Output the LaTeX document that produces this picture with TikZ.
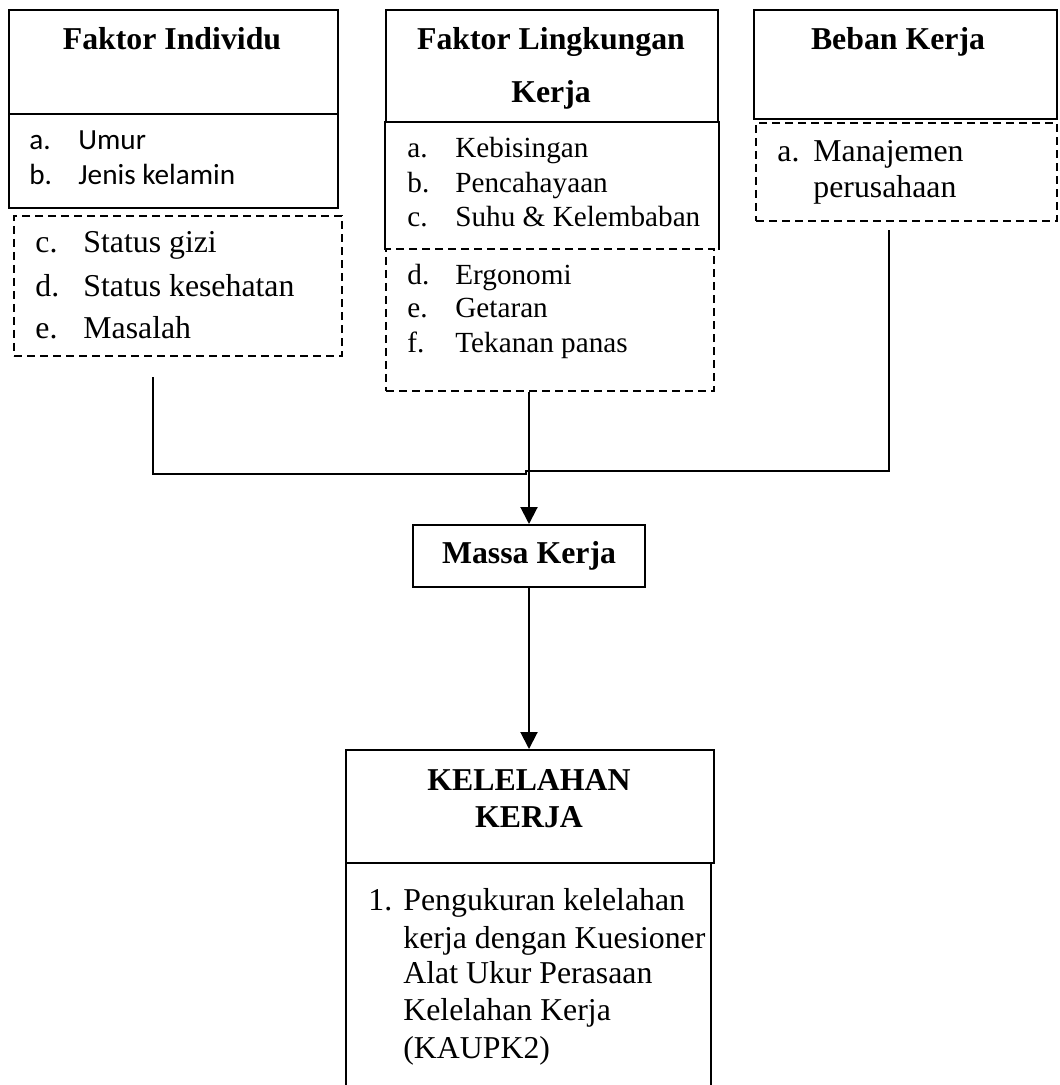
\documentclass[tikz,border=0pt]{standalone}
\usepackage{fontspec}
\setmainfont{Liberation Serif}
\newfontfamily\calibrifont{Carlito}
\usetikzlibrary{arrows.meta}
\tikzset{
  box/.style={draw, line width=1pt, inner sep=0pt, anchor=north west},
  dbox/.style={box, dash pattern=on 4pt off 2.5pt},
  head/.style={font=\fontsize{15.9}{19}\selectfont\bfseries, anchor=base, inner sep=0pt},
  item/.style={font=\fontsize{15.9}{19}\selectfont, anchor=base west, inner sep=0pt},
  smallitem/.style={font=\fontsize{14.6}{17}\selectfont, anchor=base west, inner sep=0pt},
  sansitem/.style={font=\calibrifont\fontsize{14.6}{17}\selectfont, anchor=base west, inner sep=0pt},
  link/.style={line width=1pt},
  arr/.style={link, -{Triangle[length=8.5pt,width=8.5pt]}}
}
\begin{document}
\begin{tikzpicture}[x=0.5pt, y=-0.5pt]
  \useasboundingbox (0,0) rectangle (1059,1085);

  % Faktor Individu
  \node[box, minimum width=164.5pt, minimum height=52pt] (ind) at (8,9) {};
  \node[box, minimum width=164.5pt, minimum height=47pt] (indA) at (8,113) {};
  \node[dbox, minimum width=164pt, minimum height=70pt] (indB) at (13,215) {};
  \node[head] (indT) at (172,50) {Faktor Individu};
  \foreach \n/\y/\l/\t in {a/150/a./Umur, b/185/b./Jenis kelamin} {
    \node[sansitem] (indL\n) at (29,\y) {\l};
    \node[sansitem] (indI\n) at (78,\y) {\t};
  };
  \foreach \n/\y/\l/\t in {c/253/c./Status gizi, d/297/d./Status kesehatan, e/338/e./Masalah} {
    \node[item] (indL\n) at (35,\y) {\l};
    \node[item] (indI\n) at (83,\y) {\t};
  };

  % Faktor Lingkungan Kerja
  \node[box, minimum width=166pt, minimum height=56pt] (ling) at (385,9) {};
  \node[box, draw=none, minimum width=166pt, minimum height=63.5pt] (lingA) at (385,121) {};
  \draw[link] (lingA.south west) -- (lingA.north west) (lingA.north east) -- (lingA.south east);
  \node[dbox, minimum width=164pt, minimum height=71pt] (lingB) at (385,248) {};
  \node[head] (lingT1) at (551,50) {Faktor Lingkungan};
  \node[head] (lingT2) at (551,103) {Kerja};
  \foreach \n/\y/\l/\t in {a/158/a./Kebisingan, b/193/b./Pencahayaan, c/227/c./Suhu \& Kelembaban,
                            d/285/d./Ergonomi, e/318/e./Getaran, f/352/f./Tekanan panas} {
    \node[smallitem] (lingL\n) at (407,\y) {\l};
    \node[smallitem] (lingI\n) at (455,\y) {\t};
  };

  % Beban Kerja
  \node[box, minimum width=151.5pt, minimum height=54.5pt] (beban) at (753,9) {};
  \node[dbox, minimum width=150.5pt, minimum height=49pt] (bebanA) at (755,122) {};
  \node[head] (bebanT) at (898,50) {Beban Kerja};
  \node[item] (bebanLa) at (777,162) {a.};
  \node[item] (bebanIa) at (813,162) {Manajemen};
  \node[item] (bebanIb) at (813,198) {perusahaan};

  % Massa Kerja
  \node[box, minimum width=116pt, minimum height=31pt,
        font=\fontsize{15.9}{19}\selectfont\bfseries] (massa) at (412,524) {Massa Kerja};

  % Kelelahan Kerja
  \node[box, minimum width=184pt, minimum height=56.5pt] (lelah) at (345,749) {};
  \node[box, minimum width=182.5pt, minimum height=125pt] (lelahA) at (345,862) {};
  \node[head] (lelahT1) at (529,790) {KELELAHAN};
  \node[head] (lelahT2) at (529,827) {KERJA};
  \node[item] (lelahL1) at (368,910) {1.};
  \foreach \n/\y/\t in {a/910/Pengukuran kelelahan, b/948/kerja dengan Kuesioner,
                        c/983/Alat Ukur Perasaan, d/1020/Kelelahan Kerja, e/1058/(KAUPK2)} {
    \node[item] (lelahI\n) at (403,\y) {\t};
  };

  % connectors
  \coordinate (s1) at (153,377);
  \coordinate (s3) at (889,230);
  \coordinate (jl) at (526,474);
  \coordinate (jr) at (526,471);
  \draw[link] (s1) |- (jl) -- (jr) -| (s3);
  \draw[arr] (lingB.south -| massa.north) -- (massa.north);
  \draw[arr] (massa.south) -- (massa.south |- lelah.north);
\end{tikzpicture}
\end{document}
